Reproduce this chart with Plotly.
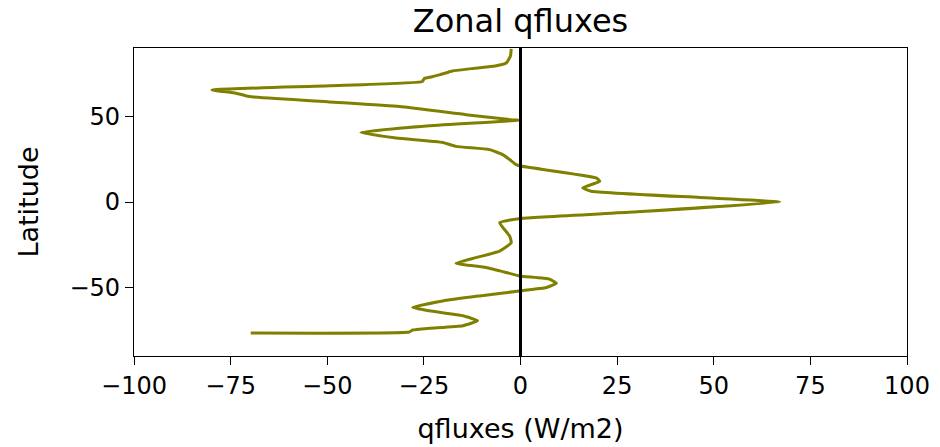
import plotly.graph_objects as go

# Zonal-mean q-flux profile, listed from north to south
latitude = [89.5, 85.3, 81.2, 79.5, 78.9, 77.8, 76.6, 74.3, 73.1, 72.2,
            70.4, 67.9, 65.5, 63.6, 61.6, 58.5, 55.8, 51.0, 48.0, 47.8,
            44.6, 40.7, 37.4, 34.8, 32.5, 30.6, 27.7, 24.8, 21.8, 21.0,
            14.1, 12.1, 8.3, 6.3, 2.6, 0.0, -5.9, -9.6, -12.1, -19.9,
            -23.8, -28.7, -32.5, -35.8, -38.3, -41.2, -43.2, -45.1, -47.5, -50.0,
            -52.0, -54.9, -57.8, -61.6, -63.6, -66.5, -69.4, -72.3, -73.8, -74.8,
            -76.0, -76.6]
qflux = [-2.4, -2.6, -3.7, -6.5, -8.9, -13.2, -17.6, -21.0, -23.1, -24.9,
         -25.4, -49.5, -79.8, -73.6, -70.2, -49.5, -31.3, -14.1, -2.1, -0.5,
         -23.6, -41.3, -32.2, -20.1, -16.7, -8.0, -4.6, -2.8, -1.1, 0.0,
         19.6, 20.5, 16.1, 18.3, 46.4, 67.1, 29.1, 0.0, -5.4, -2.8,
         -2.4, -5.4, -11.5, -16.7, -8.9, -3.7, -0.3, 7.5, 9.3, 6.7,
         -0.3, -10.6, -20.1, -27.9, -23.6, -14.9, -11.1, -14.9, -23.6, -27.9,
         -28.8, -69.8]

x_ticks = [-100, -75, -50, -25, 0, 25, 50, 75, 100]
y_ticks = [-50, 0, 50]

fig = go.Figure()
fig.add_trace(go.Scatter(
    x=qflux, y=latitude, mode="lines",
    line=dict(color="#808000", width=3, shape="spline", smoothing=0.4),
    showlegend=False, hoverinfo="skip",
))

# zero line
fig.add_shape(type="line", xref="x", yref="paper", x0=0, x1=0, y0=0, y1=1,
              line=dict(color="black", width=3))

font_family = "DejaVu Sans"
axis_common = dict(
    showline=True, mirror=True, linecolor="black", linewidth=1.2,
    ticks="outside", ticklen=8, tickwidth=1.2, tickcolor="black",
    showgrid=False, zeroline=False, automargin=False,
    tickfont=dict(family=font_family, size=24, color="black"),
)

fig.update_layout(
    width=940, height=447,
    margin=dict(l=134, r=33, t=48, b=91),
    paper_bgcolor="white", plot_bgcolor="white",
    font=dict(family=font_family, color="black"),
    title=dict(text="Zonal qfluxes", x=0.5, xref="paper", xanchor="center",
               y=1 - 21 / 447, yanchor="middle",
               font=dict(family=font_family, size=32, color="black")),
    xaxis=dict(range=[-100, 100], tickvals=x_ticks,
               title=dict(text="qfluxes (W/m2)", standoff=20,
                          font=dict(family=font_family, size=27, color="black")),
               **axis_common),
    yaxis=dict(range=[-90, 90], tickvals=y_ticks,
               title=dict(text="Latitude", standoff=22,
                          font=dict(family=font_family, size=27, color="black")),
               **axis_common),
)

fig.write_html("out.html")
